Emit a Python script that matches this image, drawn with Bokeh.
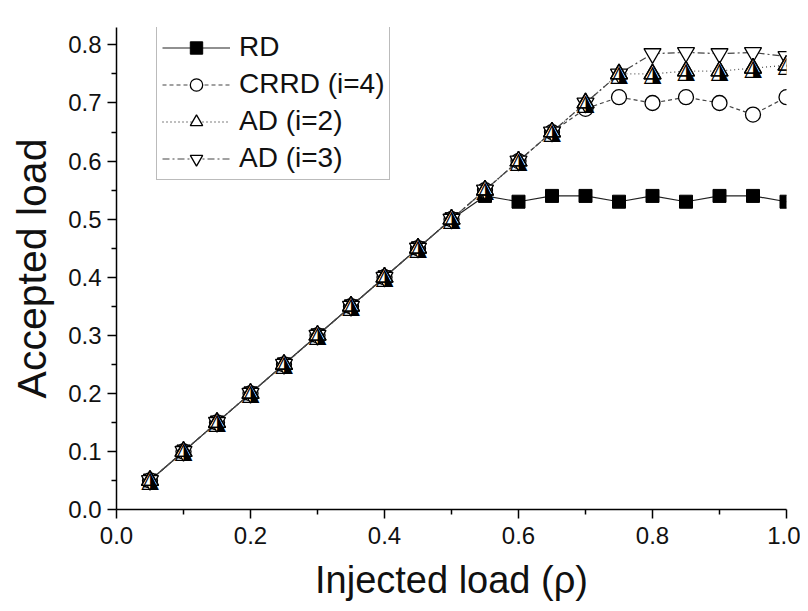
from bokeh.plotting import figure
from bokeh.models import Range1d, FixedTicker, NumeralTickFormatter, Legend, LegendItem, ColumnDataSource
from bokeh.core.properties import value
from bokeh.embed import file_html
from bokeh.resources import INLINE

injected = [0.05, 0.10, 0.15, 0.20, 0.25, 0.30, 0.35, 0.40, 0.45, 0.50,
            0.55, 0.60, 0.65, 0.70, 0.75, 0.80, 0.85, 0.90, 0.95, 1.00]
rd = [0.05, 0.10, 0.15, 0.20, 0.25, 0.30, 0.35, 0.40, 0.45, 0.50,
      0.54, 0.53, 0.54, 0.54, 0.53, 0.54, 0.53, 0.54, 0.54, 0.53]
crrd = [0.05, 0.10, 0.15, 0.20, 0.25, 0.30, 0.35, 0.40, 0.45, 0.50,
        0.55, 0.60, 0.65, 0.69, 0.71, 0.70, 0.71, 0.70, 0.68, 0.71]
ad2 = [0.05, 0.10, 0.15, 0.20, 0.25, 0.30, 0.35, 0.40, 0.45, 0.50,
       0.55, 0.60, 0.65, 0.70, 0.75, 0.75, 0.755, 0.755, 0.76, 0.765]
ad3 = [0.05, 0.10, 0.15, 0.20, 0.25, 0.30, 0.35, 0.40, 0.45, 0.50,
       0.55, 0.60, 0.65, 0.70, 0.75, 0.785, 0.787, 0.785, 0.787, 0.78]

x_ticks = [0.0, 0.2, 0.4, 0.6, 0.8, 1.0]
y_ticks = [0.0, 0.1, 0.2, 0.3, 0.4, 0.5, 0.6, 0.7, 0.8]

FONT = "Liberation Sans"

p = figure(width=800, height=603, output_backend="svg", toolbar_location=None,
           x_range=Range1d(0, 1.0), y_range=Range1d(0, 0.83),
           min_border_left=116, min_border_right=14, min_border_top=27, min_border_bottom=93)
p.outline_line_color = None
p.grid.visible = False
p.background_fill_color = "white"
p.border_fill_color = "white"

for ax in (p.xaxis[0], p.yaxis[0]):
    ax.axis_line_color = "black"
    ax.axis_line_width = 1.5
    ax.major_tick_line_color = "black"
    ax.minor_tick_line_color = "black"
    ax.major_tick_line_width = 1.5
    ax.minor_tick_line_width = 1.5
    ax.major_tick_out = 9
    ax.major_tick_in = 0
    ax.minor_tick_out = 5
    ax.minor_tick_in = 0
    ax.major_label_text_font = FONT
    ax.major_label_text_font_size = "24px"
    ax.major_label_text_color = "#111111"
    ax.axis_label_text_font = FONT
    ax.axis_label_text_font_style = "normal"
    ax.axis_label_text_color = "#111111"
    ax.formatter = NumeralTickFormatter(format="0.0")

p.xaxis[0].axis_label_text_font_size = "38px"
p.yaxis[0].axis_label_text_font_size = "41px"
p.xaxis[0].ticker = FixedTicker(ticks=x_ticks, minor_ticks=[0.1, 0.3, 0.5, 0.7, 0.9])
p.yaxis[0].ticker = FixedTicker(ticks=y_ticks,
                                minor_ticks=[0.05, 0.15, 0.25, 0.35, 0.45, 0.55, 0.65, 0.75])
p.xaxis[0].axis_label = "Injected load (ρ)"
p.yaxis[0].axis_label = "Accepted load"
p.xaxis[0].major_label_standoff = 8
p.yaxis[0].major_label_standoff = 6
p.xaxis[0].axis_label_standoff = 12
p.yaxis[0].axis_label_standoff = 10

src = ColumnDataSource(dict(x=injected, rd=rd, crrd=crrd, ad2=ad2, ad3=ad3))

l_rd = p.line("x", "rd", source=src, line_color="#222222", line_width=1.2)
l_crrd = p.line("x", "crrd", source=src, line_color="#444444", line_width=1.2, line_dash="4 3")
l_ad2 = p.line("x", "ad2", source=src, line_color="#555555", line_width=1.3, line_dash="1 3")
l_ad3 = p.line("x", "ad3", source=src, line_color="#444444", line_width=1.2, line_dash="7 3 2 3")

m_rd = p.scatter("x", "rd", source=src, marker="square", size=13,
                 fill_color="black", line_color="black")
m_crrd = p.scatter("x", "crrd", source=src, marker="circle", size=15,
                   fill_color="white", line_color="black", line_width=1.3)
m_ad3 = p.scatter("x", "ad3", source=src, marker="inverted_triangle", size=17,
                  fill_color="white", line_color="black", line_width=1.3)
m_ad2 = p.scatter("x", "ad2", source=src, marker="triangle", size=17,
                  fill_color="white", line_color="black", line_width=1.3)
t_ad2 = p.text("x", "ad2", source=src, text=value("◮"), text_font=value("DejaVu Sans"),
               text_font_size="23px", text_align="center", text_baseline="middle",
               text_color="black", y_offset=-1)
o_ad2 = p.scatter("x", "ad2", source=src, marker="triangle", size=17,
                  fill_alpha=0, line_color="black", line_width=1.3)

legend = Legend(items=[
    LegendItem(label="RD", renderers=[l_rd, m_rd]),
    LegendItem(label="CRRD (i=4)", renderers=[l_crrd, m_crrd]),
    LegendItem(label="AD (i=2)", renderers=[l_ad2, m_ad2]),
    LegendItem(label="AD (i=3)", renderers=[l_ad3, m_ad3]),
], location=(40, 329))
legend.label_text_font = FONT
legend.label_text_font_size = "28px"
legend.label_text_color = "#111111"
legend.glyph_width = 68
legend.glyph_height = 31
legend.label_height = 31
legend.spacing = 5
legend.padding = 5
legend.margin = 0
legend.label_standoff = 9
legend.border_line_color = "#777777"
legend.border_line_width = 1.2
legend.background_fill_color = "white"
legend.background_fill_alpha = 1.0
p.add_layout(legend)

open("out.html", "w").write(file_html(p, INLINE))
